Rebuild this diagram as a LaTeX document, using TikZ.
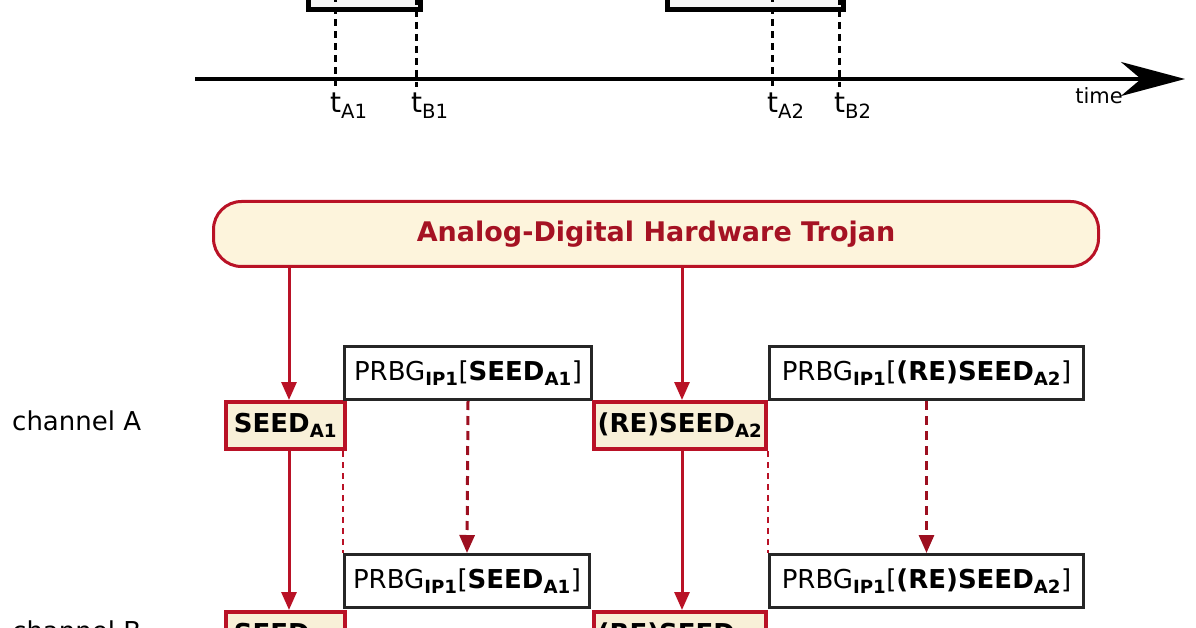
\documentclass[tikz,border=0pt]{standalone}
\usepackage{fontspec}
\setmainfont{DejaVu Sans}
\usetikzlibrary{positioning,arrows.meta}
\definecolor{trojred}{RGB}{185,18,38}
\definecolor{trojtext}{RGB}{165,18,35}
\definecolor{trojfill}{RGB}{253,244,220}
\definecolor{seedfill}{RGB}{248,240,216}
\begin{document}
\begin{tikzpicture}[x=1pt,y=-1pt]
  \useasboundingbox (0,0) rectangle (1196,628);
  \clip (0,0) rectangle (1196,628);

  \coordinate (AxisStart) at (195,79);
  \coordinate (AxisEnd) at (1185,79);
  \coordinate (TA1) at (335,87);
  \coordinate (TA2) at (772,87);
  \coordinate (TrojA) at (289,0);
  \coordinate (TrojB) at (682,0);

  \tikzstyle{topbox}=[draw=black,line width=4.5pt,fill=black!4,
                      shape=rectangle,inner sep=0pt,minimum height=60pt];
  \tikzstyle{tbox}=[draw=trojred,line width=3pt,fill=trojfill,
                    shape=rectangle,rounded corners=28pt,inner sep=0pt,
                    text=trojtext,font=\bfseries\fontsize{27}{32}\selectfont];
  \tikzstyle{sbox}=[draw=trojred,line width=4pt,fill=seedfill,
                    shape=rectangle,inner sep=0pt,minimum height=47pt,
                    font=\bfseries\fontsize{26}{30}\selectfont];
  \tikzstyle{pbox}=[draw=black!85,line width=3pt,fill=white,
                    shape=rectangle,inner sep=0pt,minimum height=53pt,
                    font=\fontsize{26}{30}\selectfont];
  \tikzstyle{tickline}=[black,line width=3pt,dash pattern=on 7pt off 5pt];
  \tikzstyle{tlabel}=[anchor=north west,inner sep=0pt,
                      font=\fontsize{28}{32}\selectfont];
  \tikzstyle{chlabel}=[anchor=west,inner sep=0pt,
                       font=\fontsize{26}{30}\selectfont];

  % time line
  \node[topbox,minimum width=112pt,anchor=south west] (TopOneBox) at (306,12) {};
  \node[topbox,minimum width=176pt,anchor=south west] (TopTwoBox) at (665,12) {};

  \draw[tickline] (TA1 |- TopOneBox.north) -- (TA1);
  \draw[tickline] (416,-50) -- (416,87);
  \draw[tickline] (TA2 |- TopTwoBox.north) -- (TA2);
  \draw[tickline] (839,-50) -- (839,87);

  \draw[line width=4pt,-{Stealth[length=64pt,width=34pt,inset=20pt]}]
       (AxisStart) -- (AxisEnd);

  \node[tlabel] (LabelTA1) at (330,93) {t\textsubscript{A1}};
  \node[tlabel] (LabelTB1) at (411,93) {t\textsubscript{B1}};
  \node[tlabel] (LabelTA2) at (767,93) {t\textsubscript{A2}};
  \node[tlabel] (LabelTB2) at (834,93) {t\textsubscript{B2}};
  \node[anchor=center,inner sep=0pt,font=\fontsize{21}{24}\selectfont]
       (TimeLabel) at (1099,96) {time};

  % trojan
  \node[tbox,minimum width=885pt,minimum height=65pt,anchor=north west]
       (TrojanBox) at (212,200) {Analog-Digital Hardware Trojan};

  % channel A
  \node[chlabel] (ChanA) at (12,421) {channel A};
  \node[sbox,minimum width=119pt,anchor=north west] (SeedAOneBox) at (224,400)
       {SEED\textsubscript{A1}};
  \node[pbox,minimum width=247pt,anchor=north west] (PrbgAOneBox) at (343,345)
       {PRBG\textsubscript{\bfseries IP1}[\textbf{SEED\textsubscript{A1}}]};
  \node[sbox,minimum width=172pt,anchor=north west] (SeedATwoBox) at (592,400)
       {(RE)SEED\textsubscript{A2}};
  \node[pbox,minimum width=314pt,anchor=north west] (PrbgATwoBox) at (768,345)
       {PRBG\textsubscript{\bfseries IP1}[\textbf{(RE)SEED\textsubscript{A2}}]};

  % channel B
  \node[chlabel] (ChanB) at (12,631) {channel B};
  \node[sbox,minimum width=119pt,anchor=north west] (SeedBOneBox) at (224,610)
       {SEED\textsubscript{A1}};
  \node[pbox,minimum width=245pt,anchor=north west] (PrbgBOneBox) at (343,553)
       {PRBG\textsubscript{\bfseries IP1}[\textbf{SEED\textsubscript{A1}}]};
  \node[sbox,minimum width=172pt,anchor=north west] (SeedBTwoBox) at (592,610)
       {(RE)SEED\textsubscript{A2}};
  \node[pbox,minimum width=314pt,anchor=north west] (PrbgBTwoBox) at (768,553)
       {PRBG\textsubscript{\bfseries IP1}[\textbf{(RE)SEED\textsubscript{A2}}]};

  % connectors
  \draw[->,line width=3pt,color=trojred,>={Triangle[length=18pt,width=15pt]}]
       (TrojanBox.south -| TrojA) -- (SeedAOneBox.north -| TrojA);
  \draw[->,line width=3pt,color=trojred,>={Triangle[length=18pt,width=15pt]}]
       (TrojanBox.south -| TrojB) -- (SeedATwoBox.north -| TrojB);
  \draw[->,line width=3pt,color=trojred,>={Triangle[length=18pt,width=15pt]}]
       (SeedAOneBox.south -| TrojA) -- (SeedBOneBox.north -| TrojA);
  \draw[->,line width=3pt,color=trojred,>={Triangle[length=18pt,width=15pt]}]
       (SeedATwoBox.south -| TrojB) -- (SeedBTwoBox.north -| TrojB);

  \draw[->,line width=3pt,color=trojred!85!black,dash pattern=on 9pt off 6pt,
        >={Triangle[length=18pt,width=15pt]}]
       (PrbgAOneBox.south) -- (PrbgBOneBox.north);
  \draw[->,line width=3pt,color=trojred!85!black,dash pattern=on 9pt off 6pt,
        >={Triangle[length=18pt,width=15pt]}]
       (PrbgATwoBox.south) -- (PrbgATwoBox.south |- PrbgBTwoBox.north);

  \draw[color=trojred,line width=2pt,dash pattern=on 6pt off 5pt]
       (SeedAOneBox.south -| PrbgBOneBox.west) -- (PrbgBOneBox.north west);
  \draw[color=trojred,line width=2pt,dash pattern=on 6pt off 5pt]
       (SeedATwoBox.south east) -- (SeedATwoBox.south east |- PrbgBTwoBox.north);
\end{tikzpicture}
\end{document}
